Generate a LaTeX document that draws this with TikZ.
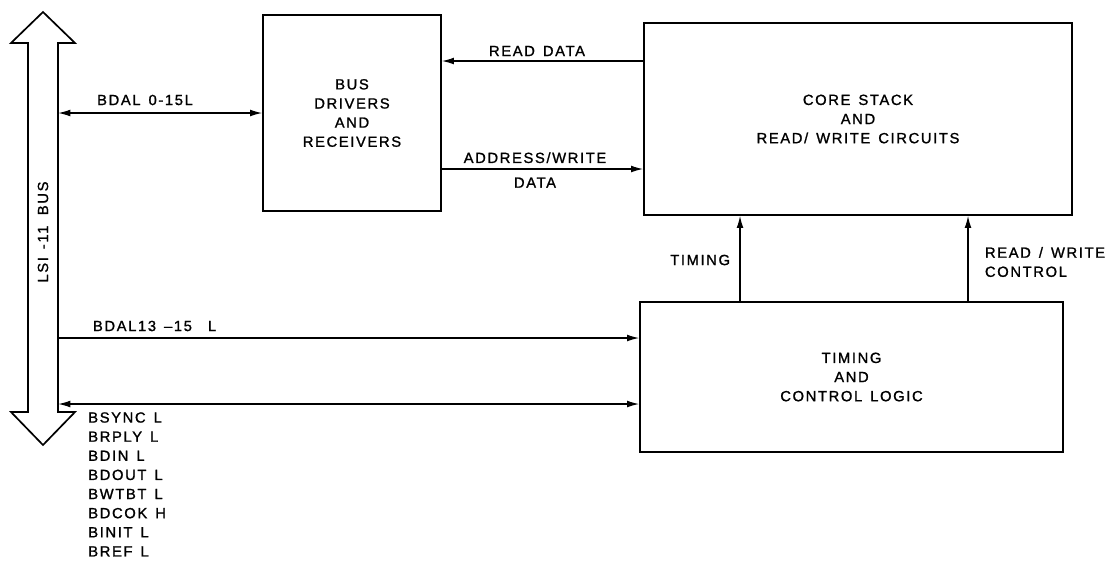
\documentclass[tikz,border=0pt]{standalone}
\usepackage{fontspec}
\setmainfont{Liberation Sans}[LetterSpace=11, FakeBold=1.2, WordSpace=1.4]
\usepackage{tikz}
\usetikzlibrary{arrows.meta, positioning, calc}

\begin{document}
\begin{tikzpicture}[x=0.025cm, y=-0.025cm,
        every node/.style={font=\fontsize{10.5}{13.6}\selectfont, align=center},
        blk/.style={draw, line width=1.3pt, inner sep=0pt},
        sig/.style={line width=0.8pt, >={Latex[length=3mm, width=1.7mm]}}]
        \useasboundingbox (0,0) rectangle (1108,575);

        \draw[line width=1.2pt] (28,43) -- (28,412) -- (11,412) -- (43,445) -- (75,412) -- (58,412)
            -- (58,43) -- (75,43) -- (43,12) -- (11,43) -- cycle;
        \node[minimum width=0.75cm, minimum height=9.225cm, inner sep=0pt] (bus) at (43,227.5) {};
        \node[rotate=90] (buslbl) at (43,232) {LSI -11 \,BUS};

        \node[blk, minimum width=4.45cm, minimum height=4.9cm] (drv) at (352,113) {BUS\\DRIVERS\\AND\\RECEIVERS};
        \node[blk, minimum width=10.7cm, minimum height=4.8cm] (core) at (858,119) {CORE STACK\\AND\\READ/ WRITE CIRCUITS};
        \node[blk, minimum width=10.575cm, minimum height=3.75cm] (tcl) at (851.5,377) {TIMING\\AND\\CONTROL LOGIC};

        \draw[sig, <->] (bus.east |- drv.west) -- (drv.west);
        \draw[sig, ->] (core.west |- 0,61) -- (drv.east |- 0,61);
        \draw[sig, ->] (drv.east |- 0,169) -- (core.west |- 0,169);
        \draw[sig, ->] (tcl.north -| 740,0) -- (core.south -| 740,0);
        \draw[sig, ->] (tcl.north -| 968,0) -- (core.south -| 968,0);
        \draw[sig, ->] (bus.east |- 0,338) -- (tcl.west |- 0,338);
        \draw[sig, <->] (bus.east |- 0,404) -- (tcl.west |- 0,404);

        \node (bdal0) at (145,100) {BDAL 0-15L};
        \node (rdata) at (537,51) {READ DATA};
        \node (awdata) at (535,170) {ADDRESS/WRITE\\[4pt]DATA};
        \node[anchor=east] (tlbl) at (735,260) {TIMING};
        \node[anchor=west, align=left] (rwlbl) at (980,262) {READ / WRITE\\CONTROL};
        \node[anchor=west] (bdal13) at (88,326) {BDAL13 --15 \ L};
        \node[anchor=north west, align=left, inner sep=0pt] (sigs) at (88,412)
            {BSYNC L\\BRPLY L\\BDIN L\\BDOUT L\\BWTBT L\\BDCOK H\\BINIT L\\BREF L};
\end{tikzpicture}
\end{document}
